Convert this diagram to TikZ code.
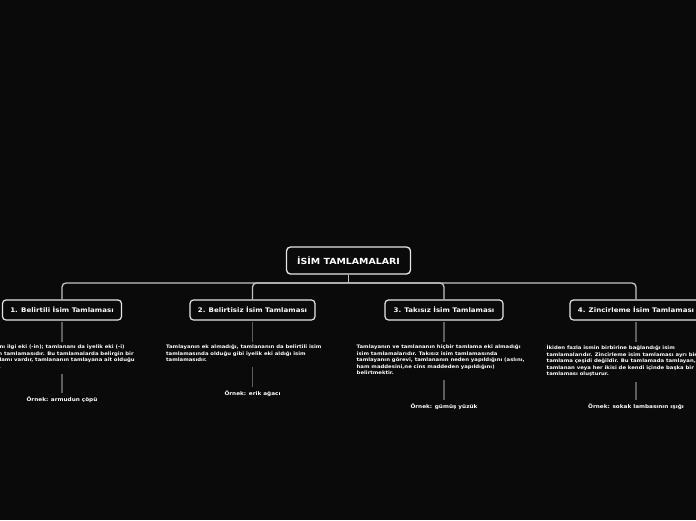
\documentclass[tikz,border=0pt]{standalone}
\usepackage{fontspec}
\setmainfont{DejaVu Sans}[BoldFont={DejaVu Sans Bold}, BoldFeatures={FakeStretch=1.12}]
\usepackage{tikz}
\usetikzlibrary{positioning}
\definecolor{bgcolor}{HTML}{0A0A0A}
\definecolor{framecolor}{HTML}{E6E6E6}
\definecolor{buscolor}{HTML}{C4C4C4}
\definecolor{stemcolor}{HTML}{5E5E5E}
\tikzset{
x=1pt, y=-1pt, % one unit is one pixel, y runs downwards
topic/.style={draw=framecolor, line width=1.3pt, rounded corners=4pt, fill=bgcolor, text=white, font=\bfseries\fontsize{8.4}{9}\selectfont, minimum height=27pt}, % the root box
subtopic/.style={draw=framecolor, line width=1.2pt, rounded corners=3.5pt, fill=bgcolor, text=white, font=\bfseries\fontsize{6.3}{7}\selectfont, minimum height=20pt}, % the four branches
note/.style={anchor=north west, inner sep=0pt, align=left, text=white, font=\bfseries\fontsize{4.75}{6.5}\selectfont}, % the explanations
example/.style={inner sep=0pt, text=white, font=\bfseries\fontsize{5.1}{6}\selectfont}, % the examples
bus/.style={draw=buscolor, line width=1.3pt, rounded corners=4pt}, % lines from the root
stem/.style={draw=stemcolor, line width=1.1pt}, % lines under boxes
}
\begin{document}
\begin{tikzpicture}
\fill[bgcolor] (0,0) rectangle (696,520);
\useasboundingbox (0,0) rectangle (696,520);
\clip (0,0) rectangle (696,520);

\node[topic, minimum width=124pt] (root) at (348.5,260.5) {İSİM TAMLAMALARI};
\coordinate (hub) at (348.5,283);

\node[subtopic, minimum width=119pt] (t1) at (62,310) {1. Belirtili İsim Tamlaması};
\node[subtopic, minimum width=125pt] (t2) at (252.5,310) {2. Belirtisiz İsim Tamlaması};
\node[subtopic, minimum width=118pt] (t3) at (444,310) {3. Takısız İsim Tamlaması};
\node[subtopic, minimum width=132pt] (t4) at (636,310) {4. Zincirleme İsim Tamlaması};

\draw[bus] (root.south) -- (hub);
\foreach \t in {t1,t2,t3,t4}
    \draw[bus] (\t.north) |- (hub);

\node[note] (d1) at (-25,345) {Tamlayanı ilgi eki (-in); tamlananı da iyelik eki (-i)\\alan isim tamlamasıdır. Bu tamlamalarda belirgin bir\\aitlik anlamı vardır, tamlananın tamlayana ait olduğu\\belirtilir.};
\node[note] (d2) at (166,345) {Tamlayanın ek almadığı, tamlananın da belirtili isim\\tamlamasında olduğu gibi iyelik eki aldığı isim\\tamlamasıdır.};
\node[note] (d3) at (356.5,345) {Tamlayanın ve tamlananın hiçbir tamlama eki almadığı\\isim tamlamalarıdır. Takısız isim tamlamasında\\tamlayanın görevi, tamlananın neden yapıldığını (aslını,\\ham maddesini,ne cins maddeden yapıldığını)\\belirtmektir.};
\node[note] (d4) at (546.5,345) {İkiden fazla ismin birbirine bağlandığı isim\\tamlamalarıdır. Zincirleme isim tamlaması ayrı bir\\tamlama çeşidi değildir. Bu tamlamada tamlayan,\\tamlanan veya her ikisi de kendi içinde başka bir isim\\tamlaması oluşturur.};

\node[example] (e1) at (62,400) {Örnek: armudun çöpü};
\node[example] (e2) at (252.5,394) {Örnek: erik ağacı};
\node[example] (e3) at (444,407) {Örnek: gümüş yüzük};
\node[example] (e4) at (636,407) {Örnek: sokak lambasının ışığı};

\foreach \n in {1,2,3,4} {
    \draw[stem, shorten <=1.5pt, shorten >=3pt] (t\n.south) -- (t\n |- d\n.north);
    \draw[stem, shorten <=5pt, shorten >=4pt] (e\n |- d\n.south) -- (e\n.north);
}
\end{tikzpicture}
\end{document}
